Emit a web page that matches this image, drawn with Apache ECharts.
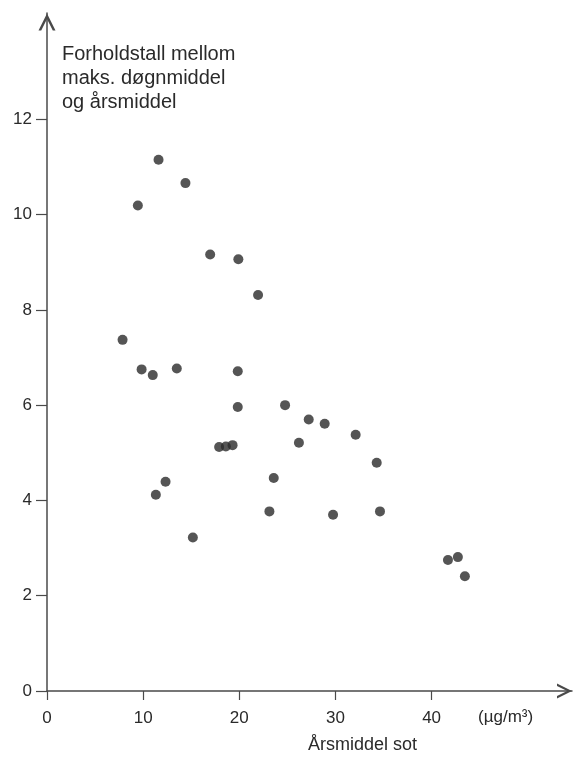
<!DOCTYPE html>
<html>
<head>
<meta charset="utf-8">
<script src="https://cdn.jsdelivr.net/npm/echarts@6/dist/echarts.min.js"></script>
<style>
html,body{margin:0;padding:0;background:#fff;}
#chart{width:574px;height:757px;}
</style>
</head>
<body>
<div id="chart"></div>
<script>
// Årsmiddel sot (µg/m³)
const sootAnnualMean = [11.6, 14.4, 9.45, 16.97, 19.9, 21.95, 7.86, 9.84, 11.0, 13.5, 19.84, 19.84, 17.9, 18.6, 19.3, 12.33, 11.32, 15.17, 23.58, 23.13, 26.2, 24.76, 27.22, 28.88, 32.1, 34.29, 29.75, 34.63, 41.7, 42.73, 43.46];
// Forholdstall mellom maks. døgnmiddel og årsmiddel
const ratioMaxDailyToAnnual = [11.15, 10.66, 10.19, 9.16, 9.06, 8.31, 7.37, 6.75, 6.63, 6.77, 6.71, 5.96, 5.12, 5.13, 5.16, 4.39, 4.12, 3.22, 4.47, 3.77, 5.21, 6.0, 5.70, 5.61, 5.38, 4.79, 3.70, 3.77, 2.75, 2.81, 2.41];
const xTicks = [0, 10, 20, 30, 40];
const yTicks = [0, 2, 4, 6, 8, 10, 12];
const yTitleLines = ['Forholdstall mellom', 'maks. døgnmiddel', 'og årsmiddel'];
const xTitle = 'Årsmiddel sot';
const xUnit = '(µg/m³)';

const points = sootAnnualMean.map((x, i) => [x, ratioMaxDailyToAnnual[i]]);
const font = '"Liberation Sans", Arial, Helvetica, sans-serif';
const ink = '#2a2a2a';
const axisColor = '#4a4a4a';
const chevron = 'path://M0,10 L5,0 L10,10 L8.4,10 L5,3.2 L1.6,10 Z';

const chart = echarts.init(document.getElementById('chart'), null, {renderer: 'canvas'});
chart.setOption({
  animation: false,
  backgroundColor: '#fff',
  grid: {left: 47, right: 2, top: 13, bottom: 66, containLabel: false},
  xAxis: {
    type: 'value', min: 0, max: 54.6,
    splitLine: {show: false},
    axisLine: {show: true, onZero: false, lineStyle: {color: axisColor, width: 1.5},
      symbol: ['none', chevron], symbolSize: [16, 15], symbolOffset: [0, -7.5]},
    axisTick: {show: true, length: 9, inside: false, customValues: xTicks, lineStyle: {color: axisColor, width: 1.2}},
    axisLabel: {show: true, margin: 19, customValues: xTicks, fontFamily: font, fontSize: 17, color: ink}
  },
  yAxis: {
    type: 'value', min: 0, max: 14.23,
    splitLine: {show: false},
    axisLine: {show: true, onZero: false, lineStyle: {color: axisColor, width: 1.5},
      symbol: ['none', chevron], symbolSize: [17, 18], symbolOffset: [0, -9]},
    axisTick: {show: true, length: 11, inside: false, customValues: yTicks, lineStyle: {color: axisColor, width: 1.2}},
    axisLabel: {show: true, margin: 15, customValues: yTicks, fontFamily: font, fontSize: 17, color: ink}
  },
  graphic: [
    {type: 'text', left: 62, top: 42, style: {text: yTitleLines.join('\n'), font: '20px ' + font, fill: ink, lineHeight: 24}},
    {type: 'text', left: 478, top: 709, style: {text: xUnit, font: '17px ' + font, fill: ink}},
    {type: 'text', left: 308, top: 736, style: {text: xTitle, font: '18px ' + font, fill: ink}}
  ],
  series: [{
    type: 'scatter',
    data: points,
    symbol: 'circle',
    symbolSize: 10,
    itemStyle: {color: '#2b2b2b'}
  }]
});
</script>
</body>
</html>
